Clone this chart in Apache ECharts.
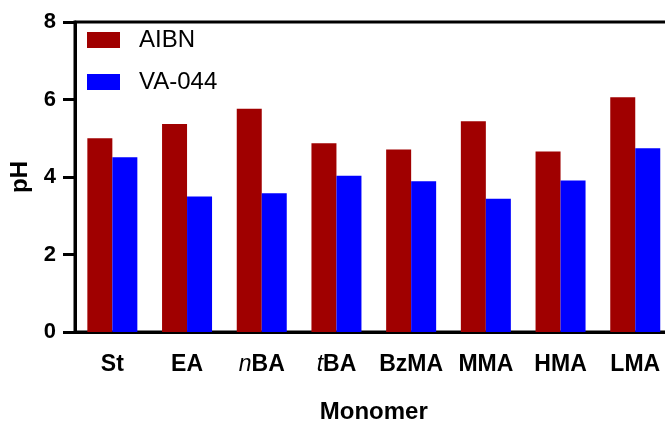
<!DOCTYPE html>
<html>
<head>
<meta charset="utf-8">
<script src="https://cdn.jsdelivr.net/npm/echarts@6/dist/echarts.min.js"></script>
<style>
  html, body { margin: 0; padding: 0; background: #fff; overflow: hidden; }
  #chart { width: 665px; height: 421px; }
</style>
</head>
<body>
<div id="chart"></div>
<script>
// Monomers (an italic prefix is marked with a leading "_x_")
const monomers = ['St', 'EA', '_n_BA', '_t_BA', 'BzMA', 'MMA', 'HMA', 'LMA'];
// pH values per initiator
const aibn = [5.00, 5.37, 5.76, 4.87, 4.71, 5.44, 4.66, 6.06];
const va044 = [4.51, 3.50, 3.58, 4.03, 3.89, 3.44, 3.91, 4.74];
const seriesNames = ['AIBN', 'VA-044'];
const yTicks = [0, 2, 4, 6, 8];

const FONT = '"Liberation Sans", Arial, Helvetica, sans-serif';

function monomerLabel(v) {
  const m = /^_(.)_(.*)$/.exec(v);
  return m ? '{i|' + m[1] + '}{b|' + m[2] + '}' : '{b|' + v + '}';
}

const chart = echarts.init(document.getElementById('chart'), null, { renderer: 'canvas' });
chart.setOption({
  animation: false,
  grid: {
    left: 75, top: 22, bottom: 89, right: -7.6,
    containLabel: false,
    outerBoundsMode: 'none',
    show: true, borderColor: '#000', borderWidth: 3, backgroundColor: 'transparent'
  },
  legend: {
    orient: 'vertical',
    left: 87, top: 28,
    padding: 0,
    itemWidth: 33, itemHeight: 16, itemGap: 18,
    icon: 'rect',
    data: seriesNames,
    textStyle: { fontFamily: FONT, fontSize: 24, color: '#000', padding: [0, 0, 0, 14] }
  },
  xAxis: {
    type: 'category',
    data: monomers,
    axisLine: { lineStyle: { color: '#000', width: 3 } },
    axisTick: { alignWithLabel: true, length: 12, lineStyle: { color: '#000', width: 3 } },
    axisLabel: {
      margin: 21,
      formatter: monomerLabel,
      rich: {
        b: { fontFamily: FONT, fontSize: 23, fontWeight: 'bold', color: '#000' },
        i: { fontFamily: FONT, fontSize: 23, fontStyle: 'italic', color: '#000' }
      }
    },
    name: 'Monomer',
    nameLocation: 'middle',
    nameGap: 68,
    nameTextStyle: { fontFamily: FONT, fontSize: 24, fontWeight: 'bold', color: '#000' }
  },
  yAxis: {
    type: 'value',
    min: yTicks[0], max: yTicks[yTicks.length - 1], interval: 2,
    splitLine: { show: false },
    axisLine: { show: true, lineStyle: { color: '#000', width: 3 } },
    axisTick: { show: true, length: 12, lineStyle: { color: '#000', width: 3 } },
    axisLabel: { margin: 19, fontFamily: FONT, fontSize: 22, fontWeight: 'bold', color: '#000' },
    name: 'pH',
    nameLocation: 'middle',
    nameGap: 38,
    nameRotate: 90,
    nameTextStyle: { fontFamily: FONT, fontSize: 24, fontWeight: 'bold', color: '#000' }
  },
  series: [
    { name: seriesNames[0], type: 'bar', data: aibn, barWidth: 25, barGap: '0%', itemStyle: { color: '#A00000' } },
    { name: seriesNames[1], type: 'bar', data: va044, barWidth: 25, barGap: '0%', itemStyle: { color: '#0000FF' } }
  ]
});
</script>
</body>
</html>
